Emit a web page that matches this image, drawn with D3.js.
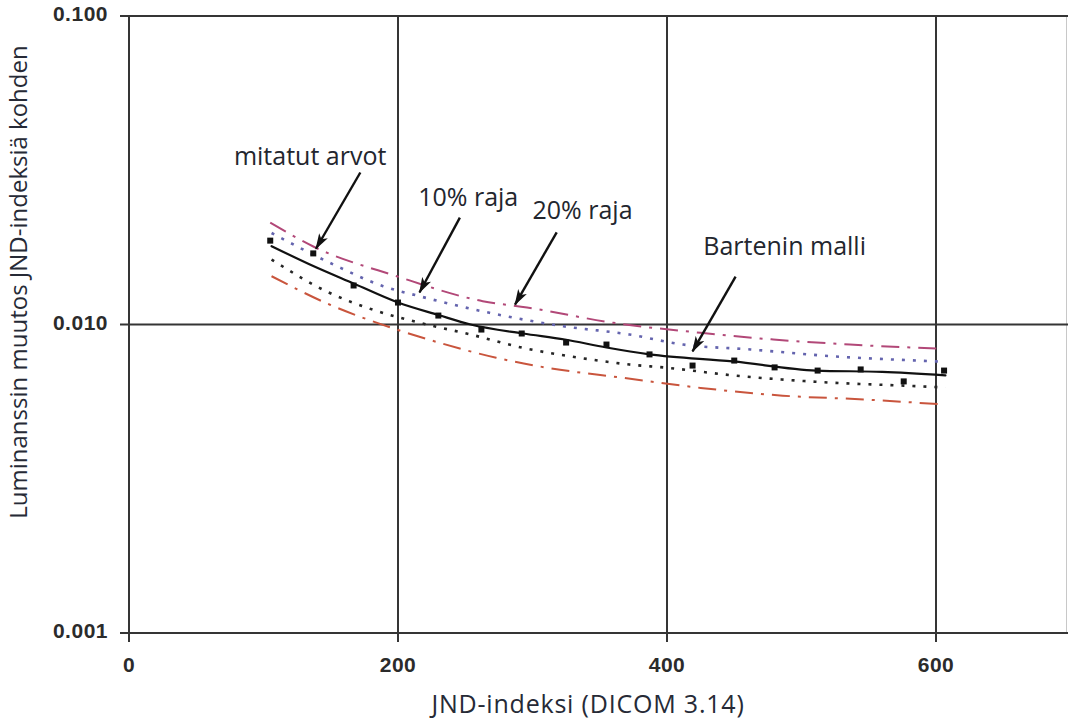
<!DOCTYPE html>
<html>
<head>
<meta charset="utf-8">
<script src="https://cdn.jsdelivr.net/npm/d3@7"></script>
<style>
  html, body { margin: 0; padding: 0; background: #fff; }
  svg { display: block; }
  .tick-label { font-family: "Liberation Sans", Arial, sans-serif; font-weight: bold; font-size: 21px; fill: #2b2b2b; letter-spacing: 0.5px; }
  .title { font-family: "Open Sans", sans-serif; font-size: 24px; fill: #262a36; }
  .title.x-title { font-size: 25px; letter-spacing: 0.8px; }
  .note { font-family: "Open Sans", sans-serif; font-size: 25px; fill: #23262e; }
</style>
</head>
<body>
<svg id="chart" width="1068" height="722"></svg>
<script>
// Tick values
const xTicks = [0, 200, 400, 600];
const yTicks = [0.001, 0.01, 0.1];
const yTickLabels = ["0.001", "0.010", "0.100"];

// Measured values (mitatut arvot)
const measJnd = [105, 137, 167, 200, 230, 262, 292, 325, 355, 387, 419, 450, 480, 512, 544, 576, 606];
const measVal = [0.0187, 0.0170, 0.01338, 0.01178, 0.01069, 0.00963, 0.00935, 0.00874, 0.00861, 0.0080,
                 0.00736, 0.00764, 0.00726, 0.00709, 0.00715, 0.00654, 0.00709];

// Barten model
const bartenJnd = [106, 137, 167, 200, 230, 254, 293, 324, 355, 387, 449, 511, 560, 607];
const bartenVal = [0.01794, 0.01547, 0.01358, 0.01178, 0.01073, 0.0100, 0.00935, 0.00894, 0.00842, 0.0080,
                   0.00759, 0.00709, 0.00702, 0.00684];

// +10 % limit
const up10Jnd = [106, 152, 189, 216, 268, 323, 372, 412, 462, 523, 598, 607];
const up10Val = [0.0198, 0.01565, 0.01331, 0.01235, 0.01091, 0.00987, 0.00928, 0.00861, 0.0083, 0.00789, 0.0076, 0.00757];

// -10 % limit
const lo10Jnd = [106, 149, 181, 216, 254, 293, 335, 372, 400, 449, 511, 586, 607];
const lo10Val = [0.01624, 0.01267, 0.01118, 0.01013, 0.00928, 0.0084, 0.0078, 0.00742, 0.00724, 0.00684, 0.00652, 0.00631, 0.00625];

// +20 % limit
const up20Jnd = [105, 137, 199, 263, 296, 360, 425, 479, 536, 605];
const up20Val = [0.0214, 0.0179, 0.01434, 0.0119, 0.01135, 0.01013, 0.0094, 0.00894, 0.00861, 0.00834];

// -20 % limit
const lo20Jnd = [106, 149, 174, 199, 231, 273, 311, 367, 425, 486, 548, 607];
const lo20Val = [0.01434, 0.01161, 0.01051, 0.00963, 0.00872, 0.0078, 0.00724, 0.00672, 0.00623, 0.00588, 0.00571, 0.0055];

// Annotations: label anchor and arrow (tail -> head) in data units
const notes = [
  { text: "mitatut arvot",  tx: 78,  tv: 0.0328, x1: 172, v1: 0.0311, x2: 139, v2: 0.0176 },
  { text: "10% raja",       tx: 215, tv: 0.0243, x1: 246, v1: 0.0222, x2: 216, v2: 0.0127 },
  { text: "20% raja",       tx: 300, tv: 0.0219, x1: 318, v1: 0.0199, x2: 287, v2: 0.0116 },
  { text: "Bartenin malli", tx: 427, tv: 0.01686, x1: 451, v1: 0.0143, x2: 419, v2: 0.00818 }
];

const W = 1068, H = 722;
const svg = d3.select("#chart");

const x = d3.scaleLinear().domain([0, 700]).range([129, 129 + 700 * 1.345]);
const y = d3.scaleLog().domain([0.001, 0.1]).range([633, 16]);

const gridColor = "#353535";
const tickLen = 9;

// Plot frame right edge
svg.append("line")
  .attr("x1", W - 1.5).attr("x2", W - 1.5)
  .attr("y1", y(0.1)).attr("y2", y(0.001))
  .attr("stroke", "#c8c8c8").attr("stroke-width", 1);

// Horizontal grid lines with ticks
svg.append("g").selectAll("line").data(yTicks).join("line")
  .attr("x1", x(0) - tickLen).attr("x2", W)
  .attr("y1", d => y(d)).attr("y2", d => y(d))
  .attr("stroke", gridColor).attr("stroke-width", 2);

// Vertical grid lines with ticks
svg.append("g").selectAll("line").data(xTicks).join("line")
  .attr("x1", d => x(d)).attr("x2", d => x(d))
  .attr("y1", y(0.1) - 1).attr("y2", y(0.001) + tickLen)
  .attr("stroke", gridColor).attr("stroke-width", 2);

// Tick labels
svg.append("g").selectAll("text").data(yTicks).join("text")
  .attr("class", "tick-label")
  .attr("x", x(0) - 21).attr("y", d => y(d) + 5)
  .attr("text-anchor", "end")
  .text((d, i) => yTickLabels[i]);

svg.append("g").selectAll("text").data(xTicks).join("text")
  .attr("class", "tick-label")
  .attr("x", d => x(d)).attr("y", 672)
  .attr("text-anchor", "middle")
  .text(d => String(d));

// Axis titles
svg.append("text").attr("class", "title x-title")
  .attr("x", 588).attr("y", 713)
  .attr("text-anchor", "middle")
  .text("JND-indeksi (DICOM 3.14)");

svg.append("text").attr("class", "title")
  .attr("transform", "translate(27,282) rotate(-90)")
  .attr("text-anchor", "middle")
  .text("Luminanssin muutos JND-indeksiä kohden");

// Curves
const line = d3.line().x(d => x(d[0])).y(d => y(d[1])).curve(d3.curveMonotoneX);
const zip = (a, b) => a.map((v, i) => [v, b[i]]);

const series = [
  { jnd: up20Jnd,   val: up20Val,   color: "#b24878", width: 2,   dash: "18,8,3,8", cap: "butt" },
  { jnd: lo20Jnd,   val: lo20Val,   color: "#c9553d", width: 2,   dash: "18,8,3,8", cap: "butt" },
  { jnd: up10Jnd,   val: up10Val,   color: "#6464ae", width: 2.6, dash: "3,8",      cap: "butt" },
  { jnd: lo10Jnd,   val: lo10Val,   color: "#262626", width: 2.6, dash: "3,8",      cap: "butt" },
  { jnd: bartenJnd, val: bartenVal, color: "#111111", width: 2.2, dash: null,       cap: "round" }
];

svg.append("g").selectAll("path").data(series).join("path")
  .attr("d", s => line(zip(s.jnd, s.val)))
  .attr("fill", "none")
  .attr("stroke", s => s.color)
  .attr("stroke-width", s => s.width)
  .attr("stroke-dasharray", s => s.dash)
  .attr("stroke-linecap", s => s.cap);

// Measured points
const sq = 6;
svg.append("g").selectAll("rect").data(zip(measJnd, measVal)).join("rect")
  .attr("x", d => x(d[0]) - sq / 2).attr("y", d => y(d[1]) - sq / 2)
  .attr("width", sq).attr("height", sq)
  .attr("fill", "#111");

// Arrow head
svg.append("defs").append("marker")
  .attr("id", "head")
  .attr("viewBox", "0 0 16 10")
  .attr("refX", 15).attr("refY", 5)
  .attr("markerWidth", 16).attr("markerHeight", 10)
  .attr("markerUnits", "userSpaceOnUse")
  .attr("orient", "auto")
  .append("path")
  .attr("d", "M0,0 L16,5 L0,10 L4,5 Z")
  .attr("fill", "#111");

const ann = svg.append("g");
ann.selectAll("line").data(notes).join("line")
  .attr("x1", d => x(d.x1)).attr("y1", d => y(d.v1))
  .attr("x2", d => x(d.x2)).attr("y2", d => y(d.v2))
  .attr("stroke", "#111").attr("stroke-width", 2.4)
  .attr("marker-end", "url(#head)");

ann.selectAll("text").data(notes).join("text")
  .attr("class", "note")
  .attr("x", d => x(d.tx)).attr("y", d => y(d.tv))
  .text(d => d.text);
</script>
</body>
</html>
